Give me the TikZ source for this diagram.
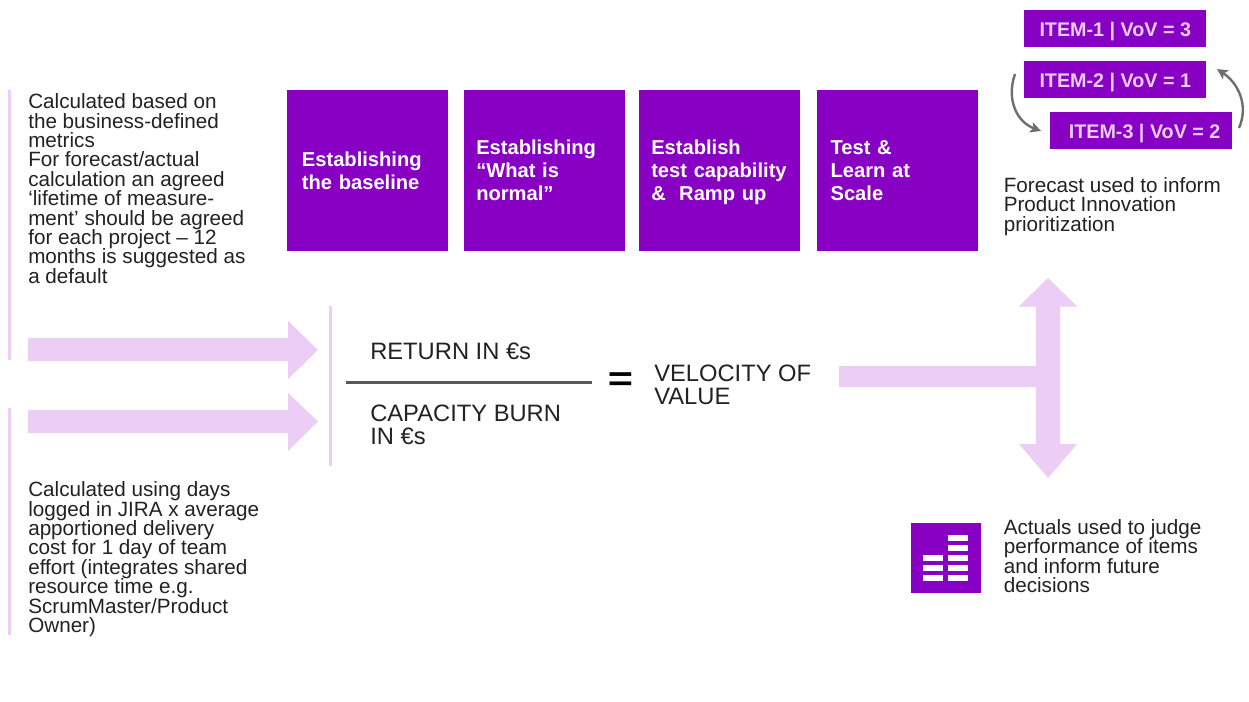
\documentclass[tikz,border=0pt]{standalone}
\usepackage{fontspec}
\usepackage{graphicx}
\setmainfont{Liberation Sans}
\usetikzlibrary{arrows.meta}
\definecolor{vio}{HTML}{8800C4}
\definecolor{pale}{HTML}{EBCDF5}
\definecolor{ink}{HTML}{222222}
\definecolor{grayarrow}{HTML}{6E6E6E}
\newcommand{\ind}[1]{\hspace*{#1}}
\newcommand{\topst}{\rule{0pt}{15.9pt}}
\newcommand{\itemtext}[1]{\raisebox{-2.6pt}[8pt][2pt]{#1}}
\tikzset{
  x=0.75pt,y=-0.75pt,
  body/.style={anchor=north west,inner sep=0pt,align=left,text=ink,font=\fontsize{15.5}{14.55}\selectfont},
  big/.style={anchor=north west,inner sep=0pt,align=left,text=ink,font=\fontsize{17.8}{17.2}\selectfont},
  square/.style={anchor=north west,fill=vio,draw=none,minimum width=120.75pt,minimum height=120.75pt,inner sep=0pt,text width=120.75pt,text=white,align=left,font=\bfseries\fontsize{15.1}{17.3}\selectfont},
  itembox/.style={anchor=north west,fill=vio,draw=none,minimum width=136.5pt,minimum height=27.75pt,inner sep=0pt,text=pale,font=\bfseries\fontsize{14.8}{17}\selectfont},
  block/.style={fill=pale,draw=none},
  rule/.style={fill=pale,draw=none},
  turn/.style={draw=grayarrow,line width=1.8pt,-{Stealth[length=8pt,width=8pt,inset=2pt]}},
}
\begin{document}
\begin{tikzpicture}
\useasboundingbox (0,0) rectangle (1249,701);
\fill[white] (0,0) rectangle (1249,701);
% side rules
\fill[rule] (8,90) rectangle (11,360);
\fill[rule] (8,408) rectangle (11,635);
\fill[rule] (329,306) rectangle (332,466);
% block arrows
\fill[block] (28,338) -- (288,338) -- (288,321) -- (318,350) -- (288,379) -- (288,361) -- (28,361) -- cycle;
\fill[block] (28,410) -- (288,410) -- (288,393) -- (318,421.5) -- (288,451) -- (288,433) -- (28,433) -- cycle;
\fill[block] (839,366) -- (1036,366) -- (1036,306.5) -- (1019,306.5) -- (1048,278) -- (1077,306.5) -- (1060,306.5) -- (1060,444) -- (1077,444) -- (1048,478) -- (1019,444) -- (1036,444) -- (1036,387) -- (839,387) -- cycle;
% left text
\node[body] (t1) at (28,93.5) {Calculated based on\\the business-defined\\metrics\\For forecast/actual\\calculation an agreed\\‘lifetime of measure-\\ment’ should be agreed\\for each project – 12\\months is suggested as\\a default};
\node[body] (t2) at (28,481.5) {Calculated using days\\logged in JIRA x average\\apportioned delivery\\cost for 1 day of team\\effort (integrates shared\\resource time e.g.\\ScrumMaster/Product\\Owner)};
% squares
\node[square] (s1) at (287,90) {\ind{11pt}\topst Establishing\\\ind{11pt}the baseline\strut};
\node[square] (s2) at (464,90) {\ind{9pt}\topst Establishing\\\ind{9pt}“What is\\\ind{9pt}normal”\strut};
\node[square] (s3) at (639,90) {\ind{9pt}\topst Establish\\\ind{9pt}test capability\\\ind{9pt}\&\ \ Ramp up\strut};
\node[square] (s4) at (817,90) {\ind{10pt}\topst Test \&\\\ind{10pt}Learn at\\\ind{10pt}Scale\strut};
% items
\node[itembox] (i1) at (1024,10) {\itemtext{ITEM-1 | VoV = 3}};
\node[itembox] (i2) at (1024,61) {\itemtext{ITEM-2 | VoV = 1}};
\node[itembox] (i3) at (1050,112) {\hspace*{5pt}\itemtext{ITEM-3 | VoV = 2}};
\coordinate (a1) at (1015,74);
\coordinate (a2) at (1041,131);
\coordinate (b1) at (1239,128);
\coordinate (b2) at (1217,69);
\draw[turn] (a1) .. controls (1006,100) and (1017,122) .. (a2);
\draw[turn] (b1) .. controls (1249,105) and (1238,83) .. (b2);
% right text
\node[body] (t3) at (1003.5,177) {Forecast used to inform\\Product Innovation\\prioritization};
\node[body] (t4) at (1003.5,519) {Actuals used to judge\\performance of items\\and inform future\\decisions};
% icon
\fill[vio] (911,523) rectangle (981,593);
\foreach \yy in {535,545,555,565,575} \fill[white] (948,\yy) rectangle (968,\yy+5.5);
\foreach \yy in {555,565,575} \fill[white] (923,\yy) rectangle (943,\yy+5.5);
% formula
\node[big] (r) at (370,342.5) {RETURN IN €s};
\node[big] (c) at (370,405) {CAPACITY BURN\\IN €s};
\coordinate (f1) at (346,382.5);
\coordinate (f2) at (592,382.5);
\draw[draw=black!65,line width=1.8pt] (f1) -- (f2);
\node[anchor=center,inner sep=0pt,text=black,font=\bfseries\fontsize{27}{27}\selectfont] (eq) at (620.5,382) {\scalebox{1.2}[0.95]{=}};
\node[big] (v) at (654,364.5) {VELOCITY OF\\VALUE};
\end{tikzpicture}
\end{document}
